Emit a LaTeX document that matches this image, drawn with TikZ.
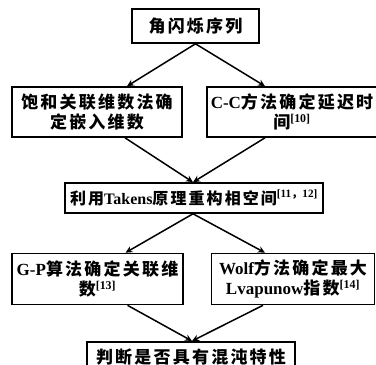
\documentclass[tikz,border=0pt]{standalone}
\usepackage{fontspec}
\setmainfont{Liberation Serif}
\newfontfamily\cjk{Noto Sans CJK SC}[LetterSpace=13]
\usetikzlibrary{arrows.meta}
\newcommand\zh[1]{{\cjk\bfseries #1}}
\tikzset{
  box/.style={draw, line width=1.6pt, inner sep=0pt, align=center,
    font=\fontsize{17}{20}\selectfont\bfseries},
  arr/.style={line width=1.5pt, -{Stealth[length=7pt,width=6.5pt]}},
}
\begin{document}
\begin{tikzpicture}[x=1pt,y=-1pt]
\useasboundingbox (0,0) rectangle (376,365);
\node[box, minimum width=127pt, minimum height=34pt] (top) at (195.5,26) {\zh{角闪烁序列}};
\node[box, minimum width=170pt, minimum height=50pt] (l2) at (97,112) {\zh{饱和关联维数法确}\\\zh{定嵌入维数}};
\node[box, minimum width=170pt, minimum height=50pt] (r2) at (292,112) {C-C\zh{方法确定延迟时}\\\zh{间}\textsuperscript{[10]}};
\node[box, minimum width=258pt, minimum height=30pt, font=\fontsize{16}{19}\selectfont\bfseries] (tk) at (194,198) {\zh{利用}Takens\zh{原理重构相空间}\textsuperscript{[11{\cjk ，}12]}};
\node[box, minimum width=171pt, minimum height=51pt] (l4) at (97.5,279) {G-P\zh{算法确定关联维}\\\zh{数}\textsuperscript{[13]}};
\node[box, minimum width=163pt, minimum height=51pt] (r4) at (293,279) {Wolf\zh{方法确定最大}\\Lvapunow\zh{指数}\textsuperscript{[14]}};
\node[box, minimum width=208pt, minimum height=31pt, anchor=north] (bt) at (191,341) {\zh{判断是否具有混沌特性}};
\draw[arr] (top.south) -- ([xshift=30pt]l2.north);
\draw[arr] (top.south) -- ([xshift=-27pt]r2.north);
\draw[arr] ([xshift=28pt]l2.south) -- ([xshift=-1pt]tk.north);
\draw[arr] ([xshift=-27pt]r2.south) -- ([xshift=-1pt]tk.north);
\draw[arr] ([xshift=-1pt]tk.south) -- ([xshift=28pt]l4.north);
\draw[arr] ([xshift=-1pt]tk.south) -- ([xshift=-28pt]r4.north);
\draw[arr] ([xshift=30pt]l4.south) -- ([xshift=1pt]bt.north);
\draw[arr] ([xshift=-30pt]r4.south) -- ([xshift=1pt]bt.north);
\end{tikzpicture}
\end{document}
